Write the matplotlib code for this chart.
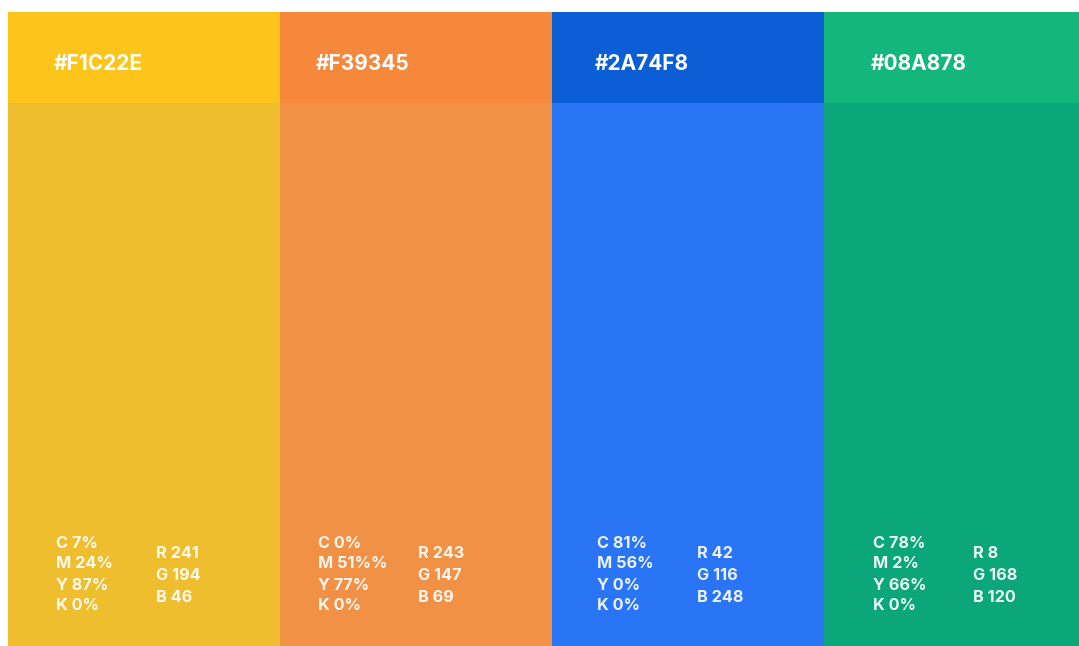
import matplotlib
matplotlib.use('Agg')
import matplotlib.pyplot as plt

hex_codes = ['#F1C22E', '#F39345', '#2A74F8', '#08A878']
head_colors = ['#FDC41B', '#F5883A', '#0C5ED6', '#13B77B']
body_colors = ['#EFBE2E', '#F09145', '#2A74F6', '#0BA679']
cmyk = [['C 7%', 'M 24%', 'Y 87%', 'K 0%'],
        ['C 0%', 'M 51%%', 'Y 77%', 'K 0%'],
        ['C 81%', 'M 56%', 'Y 0%', 'K 0%'],
        ['C 78%', 'M 2%', 'Y 66%', 'K 0%']]
rgb = [['R 241', 'G 194', 'B 46'],
       ['R 243', 'G 147', 'B 69'],
       ['R 42', 'G 116', 'B 248'],
       ['R 8', 'G 168', 'B 120']]

# pixel nudges so the text sits like in the original layout
nudge = [10, 0, 7, 11]

plt.rcParams['font.family'] = ['Inter', 'DejaVu Sans']

fig = plt.figure(figsize=[10.79, 6.46], dpi=100)
ax = fig.add_axes([8 / 1079, 0, 1 - 8 / 1079, 634 / 646])
col_w = 272
head_h = 91
total_h = 634

for i in range(len(hex_codes)):
    x0 = i * col_w
    ax.bar(x0, head_h, width=col_w, bottom=0, align='edge', color=head_colors[i], linewidth=0)
    ax.bar(x0, total_h - head_h, width=col_w, bottom=head_h, align='edge', color=body_colors[i], linewidth=0)
    ax.text(x0 + 36 + nudge[i], 52, hex_codes[i], color='white', fontsize=15,
            fontweight='bold', va='center', ha='left')
    for j, s in enumerate(cmyk[i]):
        ax.text(x0 + 38 + nudge[i], 531 + j * 21, s, color='white', alpha=0.92,
                fontsize=11.7, fontweight='bold', va='center', ha='left')
    for j, s in enumerate(rgb[i]):
        ax.text(x0 + 138 + nudge[i], 542 + j * 21.5, s, color='white', alpha=0.92,
                fontsize=11.7, fontweight='bold', va='center', ha='left')

ax.set_xlim(0, 1071)
ax.set_ylim(total_h, 0)
ax.axis('off')
fig.savefig('out.png', dpi=100)
